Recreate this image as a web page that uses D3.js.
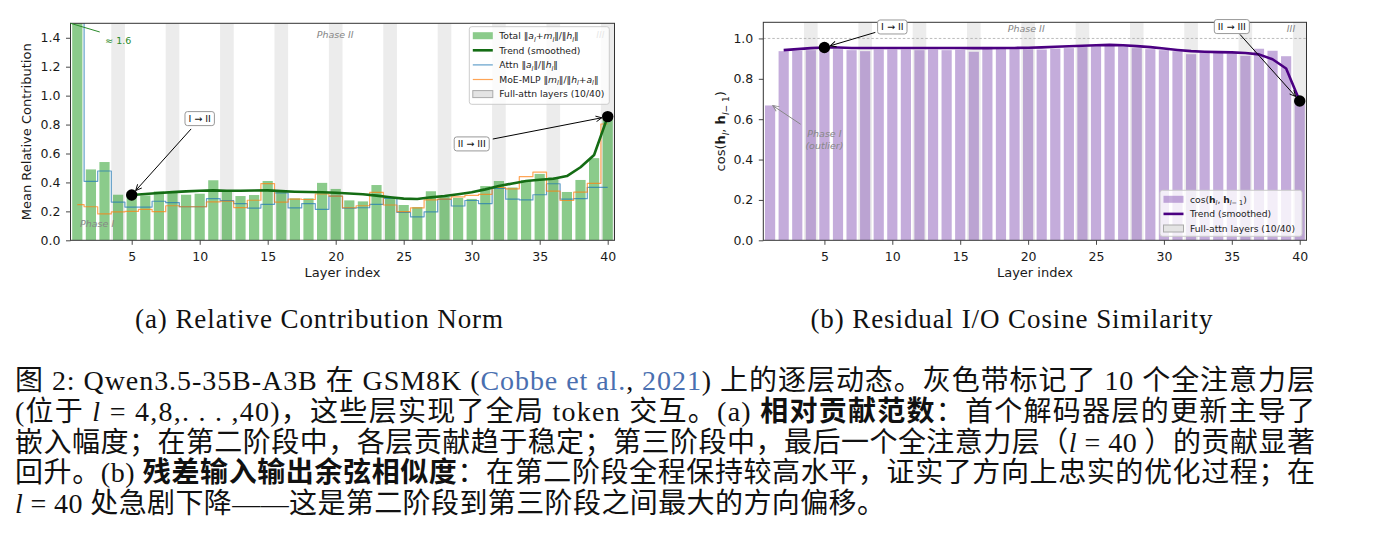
<!DOCTYPE html>
<html>
<head>
<meta charset="utf-8">
<script src="https://cdn.jsdelivr.net/npm/d3@7/dist/d3.min.js"></script>
<style>
  body { margin: 0; background: #fff; }
  svg text { white-space: pre; }
</style>
</head>
<body>
<svg id="fig" width="1374" height="550" font-family='"DejaVu Sans", sans-serif'></svg>
<script>
// ---- data ----
const layers = [1, 2, 3, 4, 5, 6, 7, 8, 9, 10, 11, 12, 13, 14, 15, 16, 17, 18, 19, 20,
                21, 22, 23, 24, 25, 26, 27, 28, 29, 30, 31, 32, 33, 34, 35, 36, 37, 38, 39, 40];
const fullAttnLayers = [4, 8, 12, 16, 20, 24, 28, 32, 36, 40];

// (a) relative contribution norm
const totalNorm = [1.6, 0.49, 0.541, 0.315, 0.32, 0.31, 0.338, 0.333, 0.315, 0.322,
                   0.415, 0.345, 0.306, 0.313, 0.41, 0.34, 0.29, 0.29, 0.397, 0.355,
                   0.276, 0.269, 0.382, 0.29, 0.244, 0.229, 0.339, 0.30, 0.293, 0.286,
                   0.375, 0.41, 0.365, 0.415, 0.459, 0.435, 0.334, 0.417, 0.568, 0.84];
const attnNorm = [1.6, 0.408, 0.479, 0.264, 0.23, 0.23, 0.27, 0.26, 0.232, 0.232,
                  0.288, 0.274, 0.253, 0.223, 0.249, 0.327, 0.224, 0.254, 0.214, 0.306,
                  0.222, 0.225, 0.249, 0.29, 0.193, 0.162, 0.196, 0.283, 0.237, 0.275,
                  0.254, 0.359, 0.284, 0.279, 0.315, 0.391, 0.285, 0.288, 0.366, 0.366];
const mlpNorm = [0.246, 0.232, 0.182, 0.196, 0.2, 0.214, 0.198, 0.239, 0.232, 0.232,
                 0.265, 0.27, 0.226, 0.277, 0.392, 0.264, 0.285, 0.282, 0.32, 0.305,
                 0.225, 0.239, 0.331, 0.244, 0.198, 0.224, 0.28, 0.285, 0.30, 0.31,
                 0.318, 0.365, 0.356, 0.44, 0.471, 0.34, 0.275, 0.333, 0.394, 0.804];
const trendLayersA = [5, 6, 7, 8, 9, 10, 11, 12, 13, 14, 15, 16, 17, 18, 19, 20, 21, 22,
                      23, 24, 25, 26, 27, 28, 29, 30, 31, 32, 33, 34, 35, 36, 37, 38, 39, 40];
const trendA = [0.313, 0.32, 0.327, 0.333, 0.338, 0.342, 0.345, 0.343, 0.342, 0.344,
                0.345, 0.34, 0.336, 0.334, 0.332, 0.329, 0.324, 0.318, 0.309, 0.298,
                0.288, 0.285, 0.297, 0.306, 0.318, 0.332, 0.352, 0.375, 0.393, 0.41,
                0.419, 0.425, 0.444, 0.505, 0.59, 0.855];

// (b) residual I/O cosine similarity
const cosSim = [0.668, 0.937, 0.939, 0.942, 0.952, 0.947, 0.942, 0.937, 0.945, 0.945,
                0.945, 0.942, 0.945, 0.942, 0.944, 0.934, 0.958, 0.95, 0.947, 0.947,
                0.945, 0.95, 0.952, 0.958, 0.962, 0.972, 0.962, 0.952, 0.947, 0.942,
                0.937, 0.922, 0.93, 0.928, 0.926, 0.914, 0.949, 0.939, 0.912, 0.69];
const trendLayersB = [2, 3, 4, 5, 6, 7, 8, 9, 10, 11, 12, 13, 14, 15, 16, 17, 18, 19, 20, 21,
                      22, 23, 24, 25, 26, 27, 28, 29, 30, 31, 32, 33, 34, 35, 36, 37, 38, 39, 40];
const trendB = [0.942, 0.947, 0.952, 0.955, 0.955, 0.953, 0.953, 0.953, 0.953, 0.953,
                0.953, 0.953, 0.953, 0.953, 0.952, 0.952, 0.953, 0.953, 0.954, 0.956,
                0.959, 0.961, 0.964, 0.966, 0.968, 0.966, 0.962, 0.957, 0.95, 0.943,
                0.937, 0.934, 0.932, 0.931, 0.928, 0.921, 0.897, 0.851, 0.69];

const xTicks = [5, 10, 15, 20, 25, 30, 35, 40];
const yTicksA = [0, 0.2, 0.4, 0.6, 0.8, 1.0, 1.2, 1.4];
const yTicksB = [0, 0.2, 0.4, 0.6, 0.8, 1.0];

const subCaptions = ['(a) Relative Contribution Norm', '(b) Residual I/O Cosine Similarity'];
const link = '#4a6fb0';
const captionLines = [
  ['图 2: Qwen3.5-35B-A3B 在 GSM8K (', ['Cobbe et al.', {fill: link}], ', ', ['2021', {fill: link}],
   ') 上的逐层动态。灰色带标记了 10 个全注意力层'],
  ['(位于 ', ['l', {i: 1}], ' = 4,8,. . . ,40)，这些层实现了全局 token 交互。(a) ', ['相对贡献范数', {b: 1}],
   '：首个解码器层的更新主导了'],
  ['嵌入幅度；在第二阶段中，各层贡献趋于稳定；第三阶段中，最后一个全注意力层（', ['l', {i: 1}],
   ' = 40 ）的贡献显著'],
  ['回升。(b) ', ['残差输入输出余弦相似度', {b: 1}], '：在第二阶段全程保持较高水平，证实了方向上忠实的优化过程；在'],
  [['l', {i: 1}], ' = 40 处急剧下降——这是第二阶段到第三阶段之间最大的方向偏移。'],
];
const captionWidths = [1300, 1300, 1300, 1300, 870];

// ---- helpers ----
const svg = d3.select('#fig');
const defs = svg.append('defs');

[['head-black', '#000'], ['head-gray', '#888']].forEach(([id, color]) => {
  defs.append('marker')
      .attr('id', id)
      .attr('viewBox', '0 0 10 10')
      .attr('refX', 9.5).attr('refY', 5)
      .attr('markerWidth', 7).attr('markerHeight', 7)
      .attr('markerUnits', 'userSpaceOnUse')
      .attr('orient', 'auto')
    .append('path')
      .attr('d', 'M1,1 L9.5,5 L1,9')
      .attr('fill', 'none')
      .attr('stroke', color)
      .attr('stroke-width', 1.3);
});

// text made of pieces: plain string or [string, {i, b, sub, fill}]
function rich(text, parts, size) {
  let shift = 0;
  parts.forEach(p => {
    const [t, o] = typeof p === 'string' ? [p, {}] : p;
    const s = o.sub ? size * 0.3 : 0;
    const span = text.append('tspan').text(t);
    if (s !== shift) { span.attr('dy', s - shift); shift = s; }
    if (o.sub) span.attr('font-size', size * 0.7);
    if (o.i) span.attr('font-style', 'italic');
    if (o.b) span.attr('font-weight', 'bold');
    if (o.fill) span.attr('fill', o.fill);
  });
  return text;
}

function styleAxis(a) {
  a.select('.domain').remove();
  a.attr('font-family', null).attr('font-size', null);
  a.selectAll('line').attr('stroke', '#333').attr('stroke-width', 0.9);
  a.selectAll('text').attr('font-size', 12.5).attr('fill', '#1a1a1a');
}

function makePanel(p) {
  const x = d3.scaleLinear().domain([0.5, 40.5]).range([p.left, p.right]);
  const y = d3.scaleLinear().domain([0, p.yMax]).range([p.bottom, p.top]);
  const g = svg.append('g');
  defs.append('clipPath').attr('id', p.id + '-clip')
    .append('rect')
      .attr('x', p.left).attr('y', p.top)
      .attr('width', p.right - p.left).attr('height', p.bottom - p.top);
  const plot = g.append('g').attr('clip-path', `url(#${p.id}-clip)`);

  // full attention layers
  plot.selectAll('rect.band')
    .data(fullAttnLayers)
    .join('rect')
      .attr('class', 'band')
      .attr('x', d => x(d - 0.5))
      .attr('width', d => x(d + 0.5) - x(d - 0.5))
      .attr('y', p.top)
      .attr('height', p.bottom - p.top)
      .attr('fill', '#ececec');

  return {x, y, g, plot, p};
}

function finishPanel({x, y, g, p}) {
  g.append('g')
      .attr('transform', `translate(0,${p.bottom})`)
      .call(d3.axisBottom(x).tickValues(xTicks).tickSize(4.5).tickPadding(7.5))
      .call(styleAxis);
  g.append('g')
      .attr('transform', `translate(${p.left},0)`)
      .call(d3.axisLeft(y).tickValues(p.yTicks).tickFormat(d3.format('.1f')).tickSize(4.5).tickPadding(5.5))
      .call(styleAxis);
  g.append('rect')
      .attr('x', p.left).attr('y', p.top)
      .attr('width', p.right - p.left).attr('height', p.bottom - p.top)
      .attr('fill', 'none').attr('stroke', '#333').attr('stroke-width', 1);

  g.append('text')
      .attr('x', (p.left + p.right) / 2).attr('y', p.bottom + 37)
      .attr('text-anchor', 'middle').attr('font-size', 13).attr('fill', '#1a1a1a')
      .text('Layer index');
  const yl = g.append('text')
      .attr('transform', `translate(${p.ylabelX},${(p.top + p.bottom) / 2}) rotate(-90)`)
      .attr('text-anchor', 'middle').attr('font-size', 13).attr('fill', '#1a1a1a');
  rich(yl, p.ylabel, 13);
}

function bars(panel, values, color) {
  const {x, y, plot} = panel;
  const bw = x(0.75) - x(0);
  plot.append('g').selectAll('rect')
    .data(layers)
    .join('rect')
      .attr('x', d => x(d) - bw / 2)
      .attr('width', bw)
      .attr('y', (d, i) => y(values[i]))
      .attr('height', (d, i) => y(0) - y(values[i]))
      .attr('fill', color)
      .attr('fill-opacity', 0.55);
}

function line(panel, xs, ys, color, width, opacity, curve) {
  const {x, y, plot} = panel;
  plot.append('path')
      .datum(xs.map((d, i) => [d, ys[i]]))
      .attr('d', d3.line().x(d => x(d[0])).y(d => y(d[1])).curve(curve || d3.curveLinear))
      .attr('fill', 'none')
      .attr('stroke', color)
      .attr('stroke-width', width)
      .attr('stroke-opacity', opacity)
      .attr('stroke-linejoin', 'round');
}

function phaseText(panel, L, v, text, anchor) {
  const {x, y, g} = panel;
  return g.append('text')
      .attr('x', x(L)).attr('y', y(v))
      .attr('text-anchor', anchor || 'start')
      .attr('font-size', 9.5).attr('font-style', 'italic').attr('fill', '#888')
      .text(text);
}

function labelBox(panel, L, v, text) {
  const {x, y, g} = panel;
  const t = g.append('text')
      .attr('x', x(L)).attr('y', y(v)).attr('dy', '0.35em')
      .attr('text-anchor', 'middle').attr('font-size', 9.5).attr('fill', '#111')
      .text(text);
  const bb = t.node().getBBox();
  g.insert('rect', () => t.node())
      .attr('x', bb.x - 3.5).attr('y', bb.y - 1.5)
      .attr('width', bb.width + 7).attr('height', bb.height + 3)
      .attr('rx', 2.5)
      .attr('fill', '#fff').attr('stroke', '#999').attr('stroke-width', 1);
}

function arrow(panel, from, to, shrink, color, marker) {
  const {x, y, g} = panel;
  const x1 = x(from[0]), y1 = y(from[1]), x2 = x(to[0]), y2 = y(to[1]);
  const len = Math.hypot(x2 - x1, y2 - y1);
  const l = g.append('line')
      .attr('x1', x1).attr('y1', y1)
      .attr('x2', x2 - (x2 - x1) / len * shrink)
      .attr('y2', y2 - (y2 - y1) / len * shrink)
      .attr('stroke', color).attr('stroke-width', 1);
  if (marker) l.attr('marker-end', `url(#${marker})`);
}

function dot(panel, L, v) {
  panel.g.append('circle')
      .attr('cx', panel.x(L)).attr('cy', panel.y(v)).attr('r', 5.7)
      .attr('fill', '#000');
}

function legend(panel, box, rows) {
  const {g} = panel;
  const lg = g.append('g').attr('transform', `translate(${box.x},${box.y})`);
  lg.append('rect')
      .attr('width', box.w).attr('height', box.h).attr('rx', 2.5)
      .attr('fill', '#fff').attr('fill-opacity', 0.8)
      .attr('stroke', '#ccc').attr('stroke-width', 1);
  rows.forEach((r, i) => {
    const cy = 9 + i * 14.6;
    if (r.kind === 'patch') {
      lg.append('rect')
          .attr('x', 3.5).attr('y', cy - 3.5).attr('width', 20).attr('height', 7)
          .attr('fill', r.color).attr('fill-opacity', r.opacity)
          .attr('stroke', r.stroke || 'none').attr('stroke-width', 1);
    } else {
      lg.append('line')
          .attr('x1', 3.5).attr('x2', 23.5).attr('y1', cy).attr('y2', cy)
          .attr('stroke', r.color).attr('stroke-width', r.width).attr('stroke-opacity', r.opacity);
    }
    rich(lg.append('text').attr('x', 30).attr('y', cy).attr('dy', '0.35em')
           .attr('font-size', 9.2).attr('fill', '#222'), r.label, 9.2);
  });
}

// ---- panel (a) ----
const A = makePanel({id: 'a', left: 70.5, right: 614.5, top: 23.3, bottom: 240.3, yMax: 1.5,
                     yTicks: yTicksA, ylabelX: 31, ylabel: ['Mean Relative Contribution']});
bars(A, totalNorm, '#2ca02c');
line(A, layers, attnNorm, '#1f77b4', 1.2, 0.7, d3.curveStep);
line(A, layers, mlpNorm, '#ff7f0e', 1.2, 0.7, d3.curveStep);
line(A, trendLayersA, trendA, '#146c14', 2.6, 1);
finishPanel(A);

phaseText(A, 1.2, 0.095, 'Phase I');
phaseText(A, 18.6, 1.40, 'Phase II');
phaseText(A, 39.15, 1.40, 'III');

A.g.append('line')
    .attr('x1', A.x(2.65)).attr('y1', A.y(1.44))
    .attr('x2', A.x(0.5)).attr('y2', A.y(1.5))
    .attr('stroke', '#2a8a2a').attr('stroke-width', 1);
A.g.append('text')
    .attr('x', A.x(3.05)).attr('y', A.y(1.36))
    .attr('font-size', 9.5).attr('fill', '#2a8a2a')
    .text('\u2248 1.6');

labelBox(A, 10, 0.84, 'I \u2192 II');
arrow(A, [9.37, 0.77], [5, trendA[0]], 6, '#000', 'head-black');
labelBox(A, 30, 0.665, 'II \u2192 III');
arrow(A, [31.55, 0.70], [40, trendA[trendA.length - 1]], 6, '#000', 'head-black');
dot(A, 5, trendA[0]);
dot(A, 40, trendA[trendA.length - 1]);

const normParts = (num, den) => ['\u2016', ...num, '\u2016/\u2016', ...den, '\u2016'];
const il = ['l', {sub: 1, i: 1}];
legend(A, {x: A.p.right - 145.2, y: A.p.top + 3.4, w: 140, h: 77.6}, [
  {kind: 'patch', color: '#2ca02c', opacity: 0.55,
   label: ['Total ', ...normParts([['a', {i: 1}], il, '+', ['m', {i: 1}], il], [['h', {i: 1}], il])]},
  {kind: 'line', color: '#146c14', width: 2.6, opacity: 1, label: ['Trend (smoothed)']},
  {kind: 'line', color: '#1f77b4', width: 1.2, opacity: 0.7,
   label: ['Attn ', ...normParts([['a', {i: 1}], il], [['h', {i: 1}], il])]},
  {kind: 'line', color: '#ff7f0e', width: 1.2, opacity: 0.7,
   label: ['MoE-MLP ', ...normParts([['m', {i: 1}], il], [['h', {i: 1}], il, '+', ['a', {i: 1}], il])]},
  {kind: 'patch', color: '#e4e4e4', opacity: 1, stroke: '#aaa', label: ['Full-attn layers (10/40)']},
]);

// ---- panel (b) ----
const hb = ['h', {b: 1}];
const B = makePanel({id: 'b', left: 763.3, right: 1306.5, top: 22.3, bottom: 240.3, yMax: 1.08,
                     yTicks: yTicksB, ylabelX: 725,
                     ylabel: ['cos(', hb, il, ', ', hb, il, ['\u2212 1', {sub: 1}], ')']});
B.plot.append('line')
    .attr('x1', B.p.left).attr('x2', B.p.right)
    .attr('y1', B.y(1.0)).attr('y2', B.y(1.0))
    .attr('stroke', '#aaa').attr('stroke-width', 0.8).attr('stroke-dasharray', '2.5,2');
bars(B, cosSim, '#9467bd');
line(B, trendLayersB, trendB, '#4b0082', 2.6, 1);
finishPanel(B);

phaseText(B, 18.5, 1.031, 'Phase II');
phaseText(B, 39.05, 1.031, 'III');
phaseText(B, 5.0, 0.511, 'Phase I', 'middle');
phaseText(B, 5.0, 0.452, '(outlier)', 'middle');
arrow(B, [3.25, 0.575], [1.2, 0.667], 0, '#888', 'head-gray');

labelBox(B, 10, 1.056, 'I \u2192 II');
arrow(B, [8.75, 1.03], [5, trendB[3]], 6, '#000', 'head-black');
labelBox(B, 35, 1.058, 'II \u2192 III');
arrow(B, [35.6, 1.02], [40, trendB[trendB.length - 1]], 6, '#000', 'head-black');
dot(B, 5, trendB[3]);
dot(B, 40, trendB[trendB.length - 1]);

legend(B, {x: B.p.right - 146.5, y: B.p.bottom - 50, w: 142, h: 46}, [
  {kind: 'patch', color: '#9467bd', opacity: 0.55, label: ['cos(', hb, il, ', ', hb, il, ['\u2212 1', {sub: 1}], ')']},
  {kind: 'line', color: '#4b0082', width: 2.6, opacity: 1, label: ['Trend (smoothed)']},
  {kind: 'patch', color: '#e4e4e4', opacity: 1, stroke: '#aaa', label: ['Full-attn layers (10/40)']},
]);

// ---- captions ----
const serif = '"Liberation Serif", "Noto Sans CJK SC", serif';
[[A, subCaptions[0], 368], [B, subCaptions[1], 402]].forEach(([P, t, w]) => {
  svg.append('text')
      .attr('x', (P.p.left + P.p.right) / 2 - 23.5).attr('y', 328)
      .attr('text-anchor', 'middle')
      .attr('font-family', serif).attr('font-size', 27).attr('fill', '#111')
      .attr('textLength', w).attr('lengthAdjust', 'spacing')
      .text(t);
});

captionLines.forEach((parts, i) => {
  const t = svg.append('text')
      .attr('x', 15).attr('y', 390 + i * 30.8)
      .attr('font-family', serif).attr('font-size', 28).attr('fill', '#111')
      .attr('textLength', captionWidths[i]).attr('lengthAdjust', 'spacing');
  rich(t, parts, 28);
});
</script>
</body>
</html>
